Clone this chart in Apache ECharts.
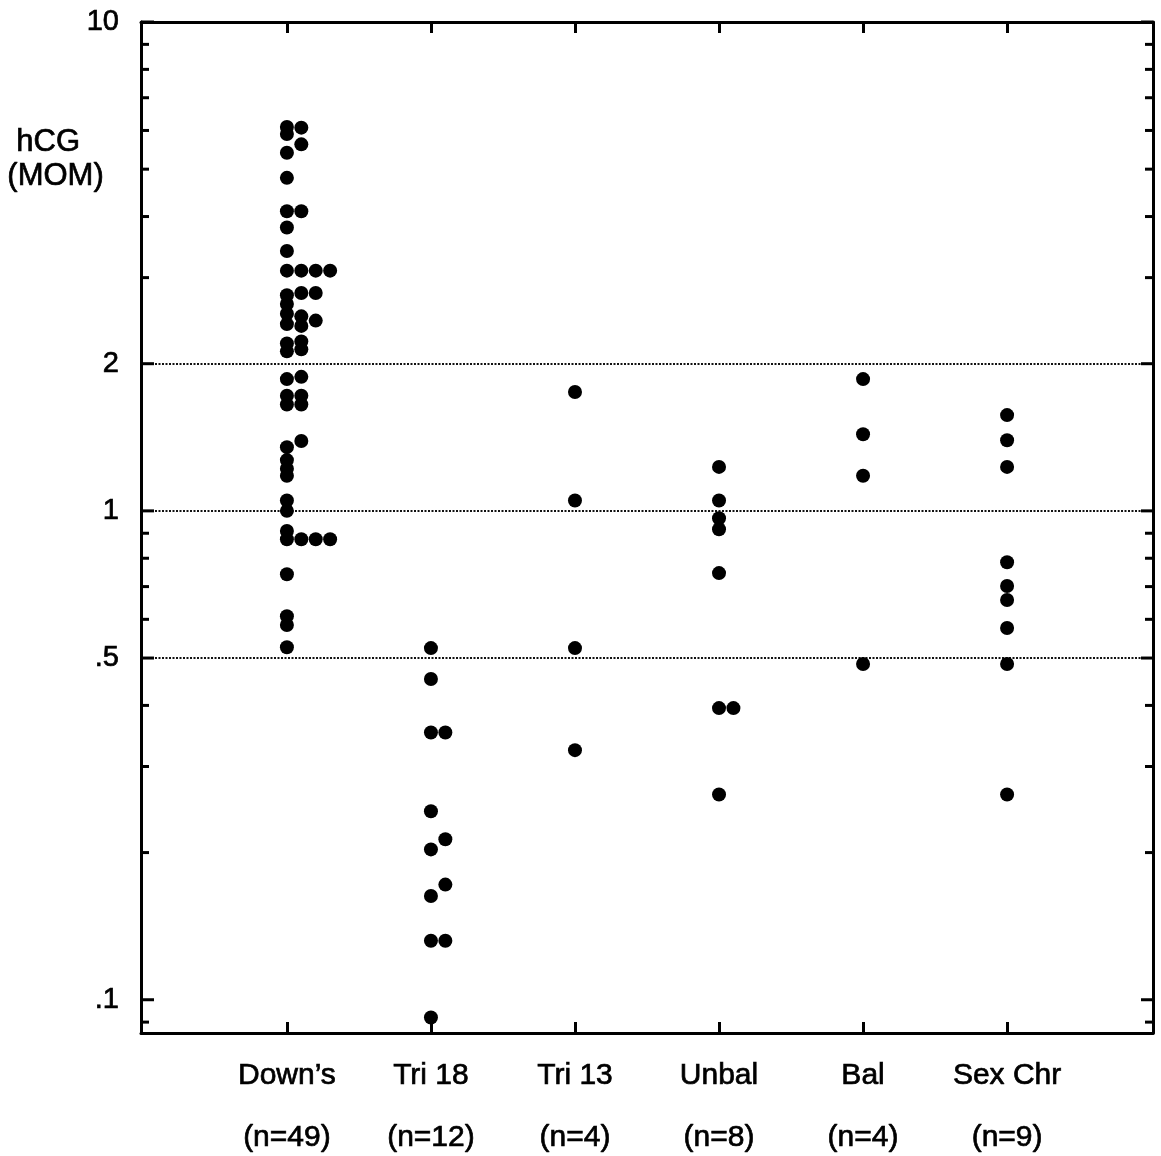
<!DOCTYPE html>
<html>
<head>
<meta charset="utf-8">
<script src="https://cdn.jsdelivr.net/npm/echarts@6/dist/echarts.min.js"></script>
<style>
html,body{margin:0;padding:0;background:#fff;}
#chart{width:1161px;height:1156px;}
</style>
</head>
<body>
<div id="chart"></div>
<script>
// ---- Data ----
const categories = ["Down\u2019s", "Tri 18", "Tri 13", "Unbal", "Bal", "Sex Chr"];

// hCG (MOM) values per group
const downsValues = [
  6.1, 5.9, 5.4, 4.8, 4.1, 3.8, 3.4, 3.1, 2.76, 2.65, 2.53, 2.41, 2.2, 2.12, 1.86, 1.72, 1.65,
  1.35, 1.27, 1.22, 1.18, 1.05, 1.0, 0.91, 0.875, 0.742, 0.609, 0.584, 0.526,
  6.08, 5.62, 4.1, 3.1, 2.79, 2.5, 2.39, 2.22, 2.14, 1.88, 1.72, 1.65, 1.39, 0.875,
  3.1, 2.79, 2.45, 0.875,
  3.1, 0.875
];
// side-by-side stack slot for tied dots (0 = on the category line)
const downsSlots = [
  0,0,0,0,0,0,0,0,0,0,0,0,0,0,0,0,0,0,0,0,0,0,0,0,0,0,0,0,0,
  1,1,1,1,1,1,1,1,1,1,1,1,1,1,
  2,2,2,2,
  3,3
];
const tri18Values = [0.524, 0.453, 0.352, 0.352, 0.243, 0.213, 0.203, 0.172, 0.163, 0.132, 0.132, 0.092];
const tri18Slots  = [0, 0, 0, 1, 0, 1, 0, 1, 0, 0, 1, 0];
const tri13Values = [1.75, 1.05, 0.524, 0.324];
const tri13Slots  = [0, 0, 0, 0];
const unbalValues = [1.23, 1.05, 0.966, 0.917, 0.746, 0.395, 0.395, 0.263];
const unbalSlots  = [0, 0, 0, 0, 0, 0, 1, 0];
const balValues   = [1.86, 1.435, 1.18, 0.486];
const balSlots    = [0, 0, 0, 0];
const sexValues   = [1.57, 1.395, 1.23, 0.785, 0.702, 0.657, 0.576, 0.486, 0.263];
const sexSlots    = [0, 0, 0, 0, 0, 0, 0, 0, 0];

const groupValues = [downsValues, tri18Values, tri13Values, unbalValues, balValues, sexValues];
const groupSlots  = [downsSlots, tri18Slots, tri13Slots, unbalSlots, balSlots, sexSlots];

// axis ticks / labels
const yMajorTicks = [10, 2, 1, 0.5, 0.1];
const yTickLabels = ["10", "2", "1", ".5", ".1"];
const yMinorTicks = [9, 8, 7, 6, 5, 4, 3, 0.9, 0.8, 0.7, 0.6, 0.4, 0.3, 0.2, 0.09];
const referenceLines = [2, 1, 0.5];
const yMin = 0.0855, yMax = 10;
const xMin = -0.013, xMax = 7.013;

// ---- Build ----
const SLOT_STEP = 0.1;
const FONT = "'Liberation Sans', Arial, Helvetica, sans-serif";
const catPositions = categories.map((c, i) => i + 1);

const points = [];
groupValues.forEach((vals, g) => {
  vals.forEach((v, k) => {
    points.push([g + 1 + groupSlots[g][k] * SLOT_STEP, v]);
  });
});

const tickData = yMajorTicks.map(v => [xMin, v, 1]).concat(yMinorTicks.map(v => [xMin, v, 0]));

const labelMap = {};
yMajorTicks.forEach((v, i) => { labelMap[v] = yTickLabels[i]; });

const xCommon = {
  type: 'value', min: xMin, max: xMax,
  splitLine: { show: false },
  axisLine: { show: true, onZero: false, lineStyle: { color: '#000', width: 3 } },
  axisTick: { show: true, inside: true, length: 11, lineStyle: { color: '#000', width: 3 }, customValues: catPositions }
};

const option = {
  animation: false,
  backgroundColor: '#fff',
  grid: { left: 141, right: 8, top: 22, bottom: 123, containLabel: false, outerBoundsMode: 'none' },
  xAxis: [
    Object.assign({}, xCommon, {
      position: 'bottom',
      axisLabel: {
        show: true, customValues: catPositions, margin: 12,
        color: '#000', fontFamily: FONT, fontSize: 30, lineHeight: 62,
        textBorderColor: '#000', textBorderWidth: 0.7,
        formatter: function (v) {
          const i = Math.round(v) - 1;
          return categories[i] + '\n(n=' + groupValues[i].length + ')';
        }
      }
    }),
    Object.assign({}, xCommon, { position: 'top', axisLabel: { show: false } })
  ],
  yAxis: [
    {
      type: 'log', logBase: 10, min: yMin, max: yMax, position: 'left',
      splitLine: { show: false },
      axisLine: { show: true, onZero: false, lineStyle: { color: '#000', width: 3 } },
      axisTick: { show: false },
      axisLabel: {
        show: true, customValues: yMajorTicks, margin: 22,
        color: '#000', fontFamily: FONT, fontSize: 29,
        textBorderColor: '#000', textBorderWidth: 0.7,
        formatter: function (v) { return labelMap[v] !== undefined ? labelMap[v] : ''; }
      }
    },
    {
      type: 'log', logBase: 10, min: yMin, max: yMax, position: 'right',
      splitLine: { show: false },
      axisLine: { show: true, onZero: false, lineStyle: { color: '#000', width: 3 } },
      axisTick: { show: false },
      axisLabel: { show: false }
    }
  ],
  graphic: [
    { type: 'text', left: 16, top: 127, style: { text: 'hCG', fill: '#000', stroke: '#000', lineWidth: 0.7, font: '31px ' + FONT } },
    { type: 'text', left: 7, top: 161, style: { text: '(MOM)', fill: '#000', stroke: '#000', lineWidth: 0.7, font: '31px ' + FONT } }
  ],
  series: [
    {
      type: 'scatter',
      xAxisIndex: 0, yAxisIndex: 0,
      symbol: 'circle', symbolSize: 14,
      itemStyle: { color: '#000', opacity: 1 },
      data: points,
      z: 5,
      markLine: {
        silent: true, symbol: 'none',
        label: { show: false },
        lineStyle: { color: '#111', type: [2, 1.5], width: 2, opacity: 1 },
        data: referenceLines.map(v => ({ yAxis: v }))
      }
    },
    {
      // y-axis ticks on both the left and right frame, pointing inward
      type: 'custom',
      xAxisIndex: 0, yAxisIndex: 0,
      silent: true, clip: false, z: 6,
      data: tickData,
      renderItem: function (params, api) {
        const y = api.coord([xMin, api.value(1)])[1];
        const xl = api.coord([xMin, api.value(1)])[0];
        const xr = api.coord([xMax, api.value(1)])[0];
        const major = api.value(2) === 1;
        const lenL = major ? 13 : 8;
        const lenR = major ? 12 : 8;
        const style = { stroke: '#000', lineWidth: 3 };
        return {
          type: 'group',
          children: [
            { type: 'line', shape: { x1: xl, y1: y, x2: xl + lenL, y2: y }, style: style },
            { type: 'line', shape: { x1: xr, y1: y, x2: xr - lenR, y2: y }, style: style }
          ]
        };
      }
    }
  ]
};

const chart = echarts.init(document.getElementById('chart'), null, { renderer: 'canvas' });
chart.setOption(option);
</script>
</body>
</html>
